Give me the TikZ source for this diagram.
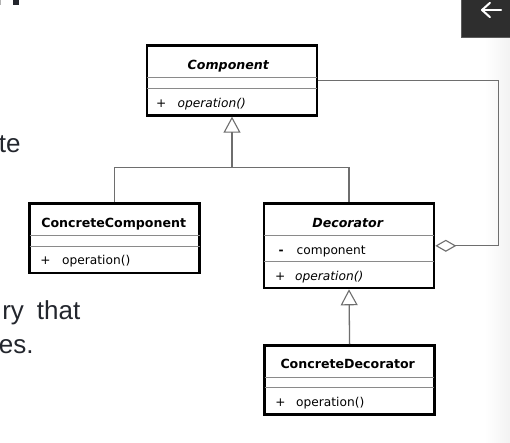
\documentclass[tikz,border=0pt]{standalone}
\usepackage{fontspec}
\setmainfont{DejaVu Sans}
\newfontfamily\slidefont{Liberation Sans}
\usetikzlibrary{arrows.meta}

\definecolor{linegray}{HTML}{6E6E6E}
\definecolor{rulegray}{HTML}{8A8A8A}
\definecolor{slideink}{HTML}{23262D}
\definecolor{navbox}{HTML}{2E2E2E}
\definecolor{navedge}{HTML}{5C5C5C}

\tikzset{
  classbox/.style={draw=black, line width=2.6pt, fill=white, anchor=north west,
    inner sep=0pt, minimum width=170pt, minimum height=#1},
  divider/.style={draw=rulegray, line width=1pt},
  conn/.style={draw=linegray, line width=1.3pt},
  inherit/.style={conn, -{Triangle[open, length=16pt, width=17pt, line width=1.1pt]}},
  aggr/.style={conn, {Diamond[open, length=21pt, width=12pt, line width=1.1pt]}-},
  classname/.style={font=\fontsize{12.6}{15}\selectfont\bfseries, anchor=base, inner sep=0pt},
  abstractname/.style={classname, font=\fontsize{12.6}{15}\selectfont\bfseries\itshape},
  vis/.style={font=\fontsize{12.2}{15}\selectfont, anchor=base, inner sep=0pt},
  member/.style={font=\fontsize{12.2}{15}\selectfont, anchor=base west, inner sep=0pt},
  absmember/.style={member, font=\fontsize{12.2}{15}\selectfont\itshape},
  slidetext/.style={font=\slidefont\fontsize{26}{31}\selectfont, text=slideink,
    anchor=base east, inner sep=0pt},
}

\begin{document}
\begin{tikzpicture}[x=1pt, y=-1pt]
  \useasboundingbox (0,0) rectangle (510,443);
  \clip (0,0) rectangle (510,443);
  \fill[white] (0,0) rectangle (510,443);
  \shade[left color=white, right color=black!5] (485,0) rectangle (510,443);

  % slide text behind the diagram (justified paragraph, cut at the left)
  \fill[slideink] (13.3,0) rectangle (18.7,4.7);
  \fill[gray!60] (0,0) rectangle (1,4.7);
  \node[slidetext] (txtA) at (20.8,152.7) {te};
  \node[slidetext] (txtB) at (80.5,319.3) {ry\hspace{13pt}that};
  \node[slidetext] (txtC) at (33.8,353.3) {es.};

  % back button
  \fill[navbox] (460.7,-1) rectangle (511,38.3);
  \draw[navedge, line width=1pt] (461.2,-1) -- (461.2,37.8) -- (511,37.8);
  \draw[white, line width=2pt, line cap=round, line join=round]
    (490,2.8) -- (482,10) -- (490,17.2);
  \draw[white, line width=2pt, line cap=round] (482.5,10) -- (501,10);

  % classes
  \node[classbox=69.8pt] (comp) at (145.7,44.3) {};
  \node[classbox=69.4pt] (cc)   at (28.3,202.3) {};
  \node[classbox=84.4pt] (dec)  at (262.7,202.3) {};
  \node[classbox=69.4pt] (cd)   at (263.3,344) {};

  % compartment rules
  \draw[divider] (147,77.3) -- (317,77.3);
  \draw[divider] (147,88.3) -- (317,88.3);
  \draw[divider] (29.6,235) -- (199.7,235);
  \draw[divider] (29.6,246) -- (199.7,246);
  \draw[divider] (264,235) -- (433.7,235);
  \draw[divider] (264,261.7) -- (433.7,261.7);
  \draw[divider] (264.6,377.3) -- (434.4,377.3);
  \draw[divider] (264.6,387.3) -- (434.4,387.3);

  % Component
  \node[abstractname] (compName) at (228.3,70) {Component};
  \node[vis] (compOpVis) at (161.3,107.5) {+};
  \node[absmember] (compOp) at (177.5,107.5) {operation()};

  % ConcreteComponent
  \node[classname] (ccName) at (113.7,227.3) {ConcreteComponent};
  \node[vis] (ccOpVis) at (45.5,264.3) {+};
  \node[member] (ccOp) at (62,264.3) {operation()};

  % Decorator
  \node[abstractname] (decName) at (347.7,227.3) {Decorator};
  \node[vis, font=\fontsize{12.2}{15}\selectfont\bfseries] (decAttrVis) at (281.2,254) {-};
  \node[member] (decAttr) at (296.5,254) {component};
  \node[vis] (decOpVis) at (280.2,280.7) {+};
  \node[absmember] (decOp) at (295,280.7) {operation()};

  % ConcreteDecorator
  \node[classname] (cdName) at (347.7,368.3) {ConcreteDecorator};
  \node[vis] (cdOpVis) at (280.5,406) {+};
  \node[member] (cdOp) at (296,406) {operation()};

  % generalisation
  \coordinate (join) at (232,167.3);
  \draw[conn] (cc.north) |- (join) -| (dec.north);
  \draw[inherit] (join) -- (comp.south);
  \draw[inherit] (cd.north) -- (dec.south);

  % aggregation: Decorator holds a Component
  \coordinate (aggCorner) at (498.5,80.5);
  \draw[aggr] (dec.east) -| (aggCorner) -- (comp.east);
\end{tikzpicture}
\end{document}
